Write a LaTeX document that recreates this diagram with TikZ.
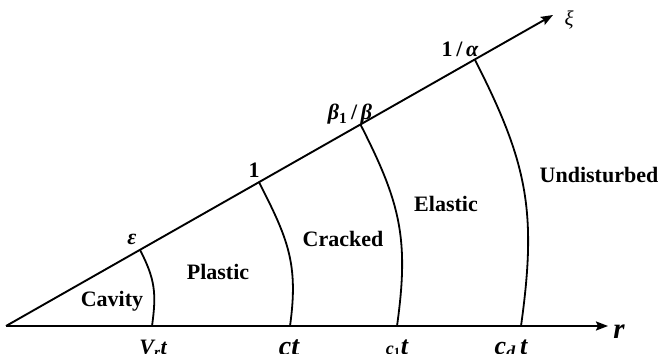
\documentclass[tikz,border=0pt]{standalone}
\usepackage{fontspec}
\setmainfont{Liberation Serif}
\usetikzlibrary{arrows.meta,calc}
\begin{document}
\begin{tikzpicture}[x=1pt,y=1pt,
  ax/.style={line width=1.9pt,-{Stealth[length=12pt,width=9pt,inset=2pt]}},
  bd/.style={line width=1.8pt,out=-63,in=82,looseness=1.1},
  reg/.style={font=\fontsize{22}{24}\selectfont\bfseries, anchor=base, inner sep=0pt},
  lab/.style={font=\fontsize{22}{24}\selectfont\bfseries\itshape, anchor=base, inner sep=0pt},
  sml/.style={font=\fontsize{22}{24}\selectfont\bfseries, anchor=base, inner sep=0pt},
]
\useasboundingbox (0,0) rectangle (663,353);
\coordinate (O) at (6,27);
\coordinate (R) at (608,27);
\coordinate (X) at (553,338);
\draw[ax] (O) -- (R);
\draw[ax] (O) -- (X);
\coordinate (t0) at ($(O)!0.245!(X)$);
\coordinate (t1) at ($(O)!0.4625!(X)$);
\coordinate (t2) at ($(O)!0.648!(X)$);
\coordinate (t3) at ($(O)!0.857!(X)$);
\coordinate (b0) at (152,27);
\coordinate (b1) at (290,27);
\coordinate (b2) at (397,27);
\coordinate (b3) at (521,27);
\draw[bd] (t0) to (b0);
\draw[bd] (t1) to (b1);
\draw[bd] (t2) to (b2);
\draw[bd] (t3) to (b3);
% region labels
\node[reg] (cav) at (112,46) {Cavity};
\node[reg] (pla) at (218,73) {Plastic};
\node[reg] (cra) at (343,106) {Cracked};
\node[reg] (ela) at (446,141) {Elastic};
\node[reg] (und) at (599,170) {Undisturbed};
% xi-axis labels
\node[lab] (eps) at (132,108) {ε};
\node[sml] (one) at (254,175) {1};
\node[sml] (bb) at (350,233) {\itshape β\textsubscript{\upshape 1}\,\upshape/\,\itshape β};
\node[sml] (alp) at (460,296) {1\,/\,\itshape α};
\node[font=\fontsize{21}{23}\selectfont\itshape] (xi) at (569,333) {ξ};
% r-axis labels
\node[lab] (vr) at (153,-1) {V\textsubscript{r}t};
\node[lab, font=\fontsize{28}{30}\selectfont\bfseries\itshape] (ct) at (289,-2) {ct};
\node[lab] (c1) at (397,-1) {{\fontsize{18}{20}\selectfont c\textsubscript{\upshape 1}}{\fontsize{26}{28}\selectfont t}};
\node[lab, font=\fontsize{26}{28}\selectfont\bfseries\itshape] (cd) at (511,-1) {c\textsubscript{d}\,t};
\node[lab, font=\fontsize{29}{31}\selectfont\bfseries\itshape] (r) at (619,15) {r};
\end{tikzpicture}
\end{document}
